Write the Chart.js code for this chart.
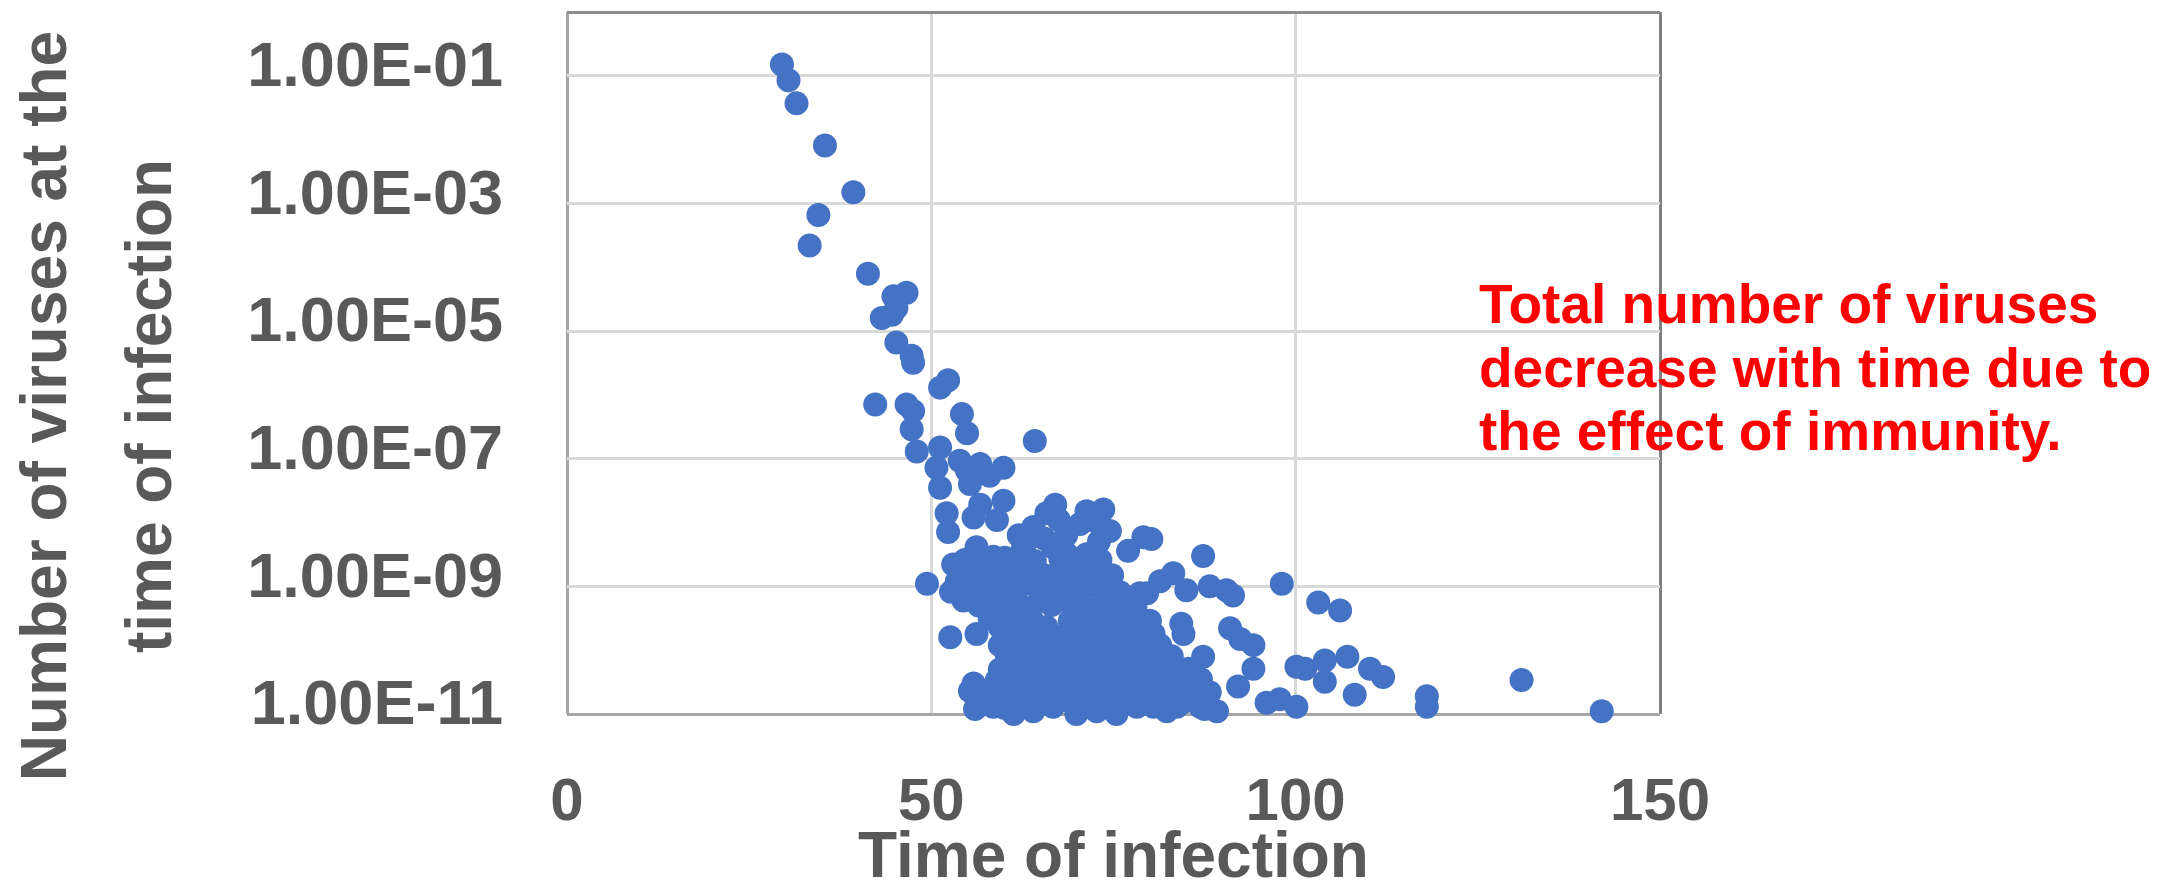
<!DOCTYPE html>
<html lang="en">
<head>
    <!-- Load Chart.js -->
    <script src="https://cdn.jsdelivr.net/npm/chart.js"></script>
    <meta charset="UTF-8">
    <title>Number of viruses at the time of infection</title>
    <style>
        body {
            margin: 0;
            background: #ffffff;
        }

        .chart-container {
            width: 2174px;
            height: 887px;
        }
    </style>
</head>
<body>
    <div class="chart-container">
        <canvas id="myChart"></canvas>
    </div>

    <script>
        // Time of infection (x) for each virus
        const infectionTimes = [
            29.5, 30.4, 31.5, 35.4, 39.3, 34.5, 33.3, 41.3, 44.8, 46.6,
            45.2, 43.2, 44.6, 45.2, 47.3, 47.5, 52.3, 51.2, 42.3, 46.6,
            47.5, 47.3, 54.2, 54.9, 64.2, 48.0, 51.2, 50.7, 53.9, 56.7,
            59.9, 58.0, 51.2, 54.9, 55.3, 52.1, 52.3, 55.8, 56.7, 59.9,
            59.0, 67.0, 65.8, 64.0, 63.1, 71.3, 73.6, 70.4, 74.5, 77.0,
            79.1, 56.2, 53.0, 58.5, 61.3, 62.6, 66.7, 68.6, 71.3, 72.2,
            69.5, 66.7, 49.4, 53.5, 56.7, 60.3, 63.1, 54.4, 58.5, 61.3,
            64.9, 68.6, 71.3, 78.6, 76.3, 52.6, 56.2, 59.4, 62.2, 65.8,
            68.6, 71.8, 75.0, 60.3, 63.5, 67.7, 71.3, 75.0, 78.2, 79.1,
            55.8, 55.3, 59.0, 61.3, 64.0, 67.2, 70.4, 74.0, 77.3, 58.5,
            61.3, 64.0, 66.7, 69.9, 72.7, 75.4, 78.2, 57.1, 63.1, 68.6,
            74.0, 80.2, 87.3, 83.2, 81.4, 79.6, 85.0, 88.2, 90.5, 91.4,
            98.1, 103.1, 106.1, 84.3, 84.6, 91.0, 92.4, 94.2, 94.2, 92.1,
            87.3, 85.3, 79.6, 81.4, 79.6, 82.7, 85.0, 80.5, 83.7, 86.9,
            89.2, 82.3, 100.1, 101.3, 104.0, 104.0, 107.1, 110.2, 112.0, 108.1,
            96.0, 97.8, 100.1, 118.0, 118.0, 131.0, 142.0,
            // dense cluster
            54.6, 57.4, 60.1, 64.2, 67.7, 70.4, 73.2,
            52.7, 55.3, 58.7, 61.6, 65.0, 67.7, 70.4, 73.2, 75.9,
            58.0, 61.0, 63.7, 69.0, 71.7, 74.5, 77.2, 80.0,
            59.4, 62.2, 65.0, 67.7, 70.4, 73.2, 75.9, 78.6, 81.4,
            59.4, 62.2, 65.0, 67.7, 70.4, 73.2, 75.9, 78.6, 81.4, 84.1,
            58.0, 60.8, 63.6, 66.3, 69.0, 71.8, 74.5, 77.2, 80.0, 82.7, 85.5, 88.2,
            56.0, 60.0, 87.5,
            67.5, 72.5, 62.0, 68.5, 73.0, 65.5,
            56.0, 59.0, 62.9, 65.5, 69.0, 72.0, 74.8,
            56.5, 60.0, 62.5, 66.5, 70.0, 73.0, 75.5, 78.0,
            60.5, 63.5, 66.4, 69.2, 72.0, 77.5, 80.5,
            61.0, 64.0, 66.0, 69.0, 72.0, 74.5, 77.0, 80.0, 83.0,
            60.0, 62.9, 65.7, 68.5, 71.2, 73.9, 76.6, 79.3, 82.0, 84.7, 87.0,
            59.5, 62.3, 65.2, 68.0, 70.8, 73.5, 76.3, 79.0, 81.8, 84.6, 87.6
        ];

        // Number of viruses at the time of infection (y), same order
        const virusCounts = [
            1.5e-1, 8.5e-2, 3.7e-2, 8.1e-3, 1.5e-3, 6.6e-4, 2.2e-4, 7.9e-5, 3.5e-5, 4.0e-5,
            2.3e-5, 1.6e-5, 1.8e-5, 6.6e-6, 4.1e-6, 3.2e-6, 1.7e-6, 1.3e-6, 7.1e-7, 7.1e-7,
            5.6e-7, 2.9e-7, 5.0e-7, 2.5e-7, 1.9e-7, 1.3e-7, 1.5e-7, 7.2e-8, 9.3e-8, 8.3e-8,
            7.2e-8, 5.4e-8, 3.5e-8, 6.5e-8, 4.0e-8, 1.4e-8, 7.1e-9, 1.2e-8, 1.9e-8, 2.2e-8,
            1.1e-8, 1.9e-8, 1.4e-8, 8.5e-9, 5.2e-9, 1.5e-8, 1.6e-8, 9.5e-9, 7.4e-9, 3.6e-9,
            5.9e-9, 4.1e-9, 2.2e-9, 2.9e-9, 2.2e-9, 4.1e-9, 4.1e-9, 3.2e-9, 3.2e-9, 1.8e-9,
            1.6e-9, 1.4e-9, 1.1e-9, 1.2e-9, 9.8e-10, 1.4e-9, 1.1e-9, 6.0e-10, 4.8e-10, 6.0e-10,
            6.0e-10, 6.0e-10, 4.2e-10, 7.8e-10, 3.3e-10, 1.6e-10, 1.8e-10, 2.3e-10, 1.6e-10, 2.3e-10,
            1.8e-10, 1.8e-10, 1.8e-10, 8.9e-11, 8.9e-11, 8.9e-11, 6.9e-11, 8.9e-11, 8.9e-11, 4.4e-11,
            3.0e-11, 2.3e-11, 3.4e-11, 4.4e-11, 4.4e-11, 3.4e-11, 3.8e-11, 3.4e-11, 3.0e-11, 1.3e-11,
            1.0e-11, 1.1e-11, 1.3e-11, 1.0e-11, 1.1e-11, 1.0e-11, 1.3e-11, 1.7e-11, 1.9e-11, 1.9e-11,
            1.9e-11, 5.5e-9, 3.0e-9, 1.6e-9, 1.2e-9, 7.8e-10, 8.7e-10, 1.0e-9, 8.7e-10, 7.2e-10,
            1.1e-9, 5.6e-10, 4.2e-10, 2.6e-10, 1.8e-10, 2.2e-10, 1.5e-10, 1.2e-10, 5.1e-11, 2.7e-11,
            7.9e-11, 5.1e-11, 6.9e-11, 6.9e-11, 3.0e-11, 2.7e-11, 2.3e-11, 1.3e-11, 1.3e-11, 1.3e-11,
            1.1e-11, 1.1e-11, 5.5e-11, 5.1e-11, 6.9e-11, 3.2e-11, 7.9e-11, 5.1e-11, 3.8e-11, 2.0e-11,
            1.5e-11, 1.7e-11, 1.3e-11, 1.9e-11, 1.3e-11, 3.4e-11, 1.1e-11,
            // dense cluster
            2.6e-9, 2.4e-9, 2.8e-9, 2.5e-9, 2.7e-9, 2.3e-9, 2.6e-9,
            8.2e-10, 9.0e-10, 8.5e-10, 9.2e-10, 8.0e-10, 8.8e-10, 8.4e-10, 9.0e-10, 8.1e-10,
            3.1e-10, 2.8e-10, 3.2e-10, 2.9e-10, 3.0e-10, 2.7e-10, 3.1e-10, 2.9e-10,
            1.2e-10, 1.1e-10, 1.3e-10, 1.2e-10, 1.1e-10, 1.3e-10, 1.2e-10, 1.1e-10, 1.2e-10,
            5.0e-11, 5.4e-11, 5.0e-11, 5.5e-11, 5.1e-11, 5.3e-11, 5.0e-11, 5.4e-11, 5.2e-11, 5.0e-11,
            2.4e-11, 2.2e-11, 2.4e-11, 2.3e-11, 2.2e-11, 2.4e-11, 2.3e-11, 2.2e-11, 2.4e-11, 2.3e-11, 2.4e-11, 2.2e-11,
            1.2e-11, 1.25e-11, 1.2e-11,
            1.1e-8, 1.05e-8, 6.3e-9, 6.3e-9, 5.0e-9, 5.6e-9,
            1.5e-9, 1.6e-9, 1.4e-9, 1.5e-9, 1.6e-9, 1.4e-9, 1.5e-9,
            5.0e-10, 5.2e-10, 4.8e-10, 5.1e-10, 4.9e-10, 5.0e-10, 5.3e-10, 4.8e-10,
            1.9e-10, 2.0e-10, 1.8e-10, 1.9e-10, 2.0e-10, 1.9e-10, 1.8e-10,
            8.0e-11, 7.6e-11, 8.2e-11, 7.8e-11, 8.0e-11, 7.7e-11, 8.1e-11, 7.9e-11, 8.0e-11,
            3.5e-11, 3.6e-11, 3.4e-11, 3.5e-11, 3.6e-11, 3.5e-11, 3.4e-11, 3.6e-11, 3.5e-11, 3.4e-11, 3.5e-11,
            1.6e-11, 1.55e-11, 1.6e-11, 1.65e-11, 1.6e-11, 1.55e-11, 1.6e-11, 1.65e-11, 1.6e-11, 1.55e-11, 1.6e-11
        ];

        // Axis ticks and their labels
        const xTicks = [0, 50, 100, 150];
        const yTicks = [1e-11, 1e-9, 1e-7, 1e-5, 1e-3, 1e-1, 1];
        const yTickLabels = ['1.00E-11', '1.00E-09', '1.00E-07', '1.00E-05', '1.00E-03', '1.00E-01', ''];

        const xTitle = 'Time of infection';
        const yTitleLines = ['Number of viruses at the', 'time of infection'];
        const noteLines = ['Total number of viruses', 'decrease with time due to', 'the effect of immunity.'];

        const FONT = '"Liberation Sans", Arial, sans-serif';
        const TEXT_GRAY = '#595959';

        // y title and red note are drawn on top of the chart
        const textPlugin = {
            id: 'extraText',
            afterDraw(chart) {
                const ctx = chart.ctx;
                ctx.save();
                ctx.fillStyle = TEXT_GRAY;
                ctx.font = 'bold 64px ' + FONT;
                ctx.textAlign = 'center';
                ctx.textBaseline = 'alphabetic';
                const baselines = [66, 171];
                yTitleLines.forEach((line, i) => {
                    ctx.save();
                    ctx.translate(baselines[i], 406);
                    ctx.rotate(-Math.PI / 2);
                    ctx.fillText(line, 0, 0);
                    ctx.restore();
                });

                ctx.fillStyle = '#ff0000';
                ctx.font = 'bold 55px ' + FONT;
                ctx.textAlign = 'left';
                const noteBase = [323, 387, 450];
                noteLines.forEach((line, i) => ctx.fillText(line, 1479, noteBase[i]));
                ctx.restore();
            }
        };

        function edgeColor(value, low, high, lowColor, highColor) {
            if (value === low) return lowColor;
            if (value === high) return highColor;
            return '#d9d9d9';
        }

        const points = infectionTimes.map((x, i) => ({x: x, y: virusCounts[i]}));

        const ctx = document.getElementById('myChart').getContext('2d');
        new Chart(ctx, {
            type: 'scatter',
            data: {
                datasets: [{
                    label: 'Viruses',
                    data: points,
                    backgroundColor: '#4472c4',
                    borderColor: '#4472c4',
                    borderWidth: 0,
                    pointRadius: 12,
                    pointHoverRadius: 12,
                    clip: false
                }]
            },
            plugins: [textPlugin],
            options: {
                responsive: true,
                maintainAspectRatio: false,
                animation: false,
                devicePixelRatio: 1,
                layout: {
                    padding: {left: 0, top: 10, right: 514, bottom: 0}
                },
                plugins: {
                    legend: {display: false},
                    tooltip: {enabled: false}
                },
                scales: {
                    x: {
                        type: 'linear',
                        min: 0,
                        max: 150,
                        afterBuildTicks: (scale) => {
                            scale.ticks = xTicks.map(v => ({value: v}));
                        },
                        afterFit: (scale) => {
                            scale.height = 173;
                            scale.paddingLeft = 0;
                            scale.paddingRight = 0;
                        },
                        grid: {
                            drawTicks: false,
                            lineWidth: 3,
                            color: (c) => edgeColor(c.tick && c.tick.value, 0, 150, '#a6a6a6', '#808080')
                        },
                        border: {display: false},
                        ticks: {
                            padding: 53,
                            color: TEXT_GRAY,
                            font: {family: FONT, size: 60, weight: 'bold'}
                        },
                        title: {
                            display: true,
                            text: xTitle,
                            color: TEXT_GRAY,
                            font: {family: FONT, size: 64, weight: 'bold', lineHeight: 0.8},
                            padding: {top: 0, bottom: 2}
                        }
                    },
                    y: {
                        type: 'logarithmic',
                        min: 1e-11,
                        max: 1,
                        afterBuildTicks: (scale) => {
                            scale.ticks = yTicks.map(v => ({value: v}));
                        },
                        afterFit: (scale) => {
                            scale.width = 567;
                            scale.paddingTop = 0;
                            scale.paddingBottom = 0;
                        },
                        grid: {
                            drawTicks: false,
                            lineWidth: 3,
                            color: (c) => edgeColor(c.tick && c.tick.value, 1e-11, 1, '#a6a6a6', '#8c8c8c')
                        },
                        border: {display: false},
                        ticks: {
                            padding: 64,
                            labelOffset: -7,
                            color: TEXT_GRAY,
                            font: {family: FONT, size: 63, weight: 'bold'},
                            callback: (value) => {
                                const idx = yTicks.indexOf(value);
                                return idx >= 0 ? yTickLabels[idx] : '';
                            }
                        }
                    }
                }
            }
        });
    </script>
</body>
</html>
